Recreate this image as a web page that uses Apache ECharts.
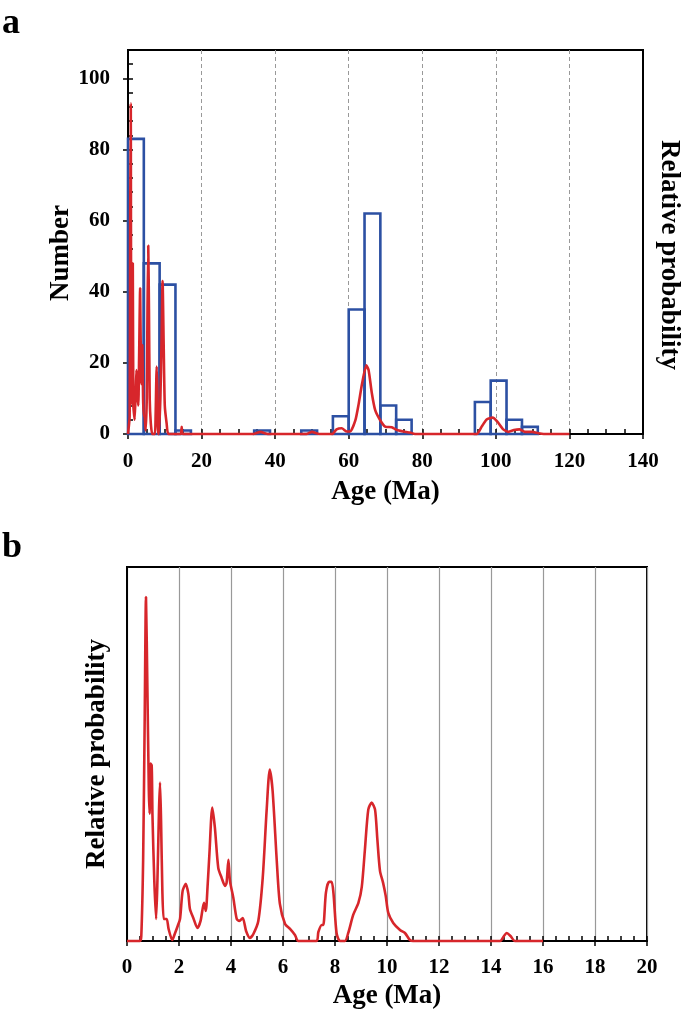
<!DOCTYPE html>
<html><head><meta charset="utf-8">
<script src="https://cdn.jsdelivr.net/npm/echarts@6/dist/echarts.min.js"></script>
<style>html,body{margin:0;padding:0;background:#fff}#c{width:685px;height:1009px}</style>
</head><body><div id="c"></div>
<script>
// ---------- DATA ----------
// Histogram (panel a): bin edges (Ma) and counts
const binLow   = [0, 4.3, 8.6, 12.9, 34.3, 47.1, 55.7, 60.0, 64.3, 68.6, 72.9, 94.3, 98.6, 102.9, 107.1];
const binHigh  = [4.3, 8.6, 12.9, 17.1, 38.6, 51.4, 60.0, 64.3, 68.6, 72.9, 77.1, 98.6, 102.9, 107.1, 111.4];
const binCount = [83, 48, 42, 1, 1, 1, 5, 35, 62, 8, 4, 9, 15, 4, 2];

// Relative probability curve as drawn in panel a (0-120 Ma)
const ageA  = [0, 0.45, 0.6, 0.75, 0.85, 0.95, 1.1, 1.3, 1.45, 1.6, 1.8, 2.1, 2.3, 2.5, 2.8, 3.0, 3.3, 3.55, 3.75, 3.9, 4.1, 4.3, 4.5, 4.8, 5.1, 5.3, 5.5, 5.7, 5.9, 6.2, 6.6, 7.3, 7.5, 7.8, 8.0, 8.2, 8.4, 8.8, 9.1, 9.4, 9.7, 10.0, 10.5, 11.0, 14.3, 14.6, 14.9, 34, 36, 38, 48.5, 50, 52, 55.5, 56.7, 58.1, 59.5, 60.4, 61.8, 62.7, 63.6, 64.8, 65.4, 66.3, 67.2, 68.6, 69.9, 71.7, 73.1, 74.9, 76.7, 78, 94.8, 96.1, 97.5, 99.1, 100.4, 102, 103.4, 104.9, 106.4, 107.9, 109.8, 111.6, 113, 120];
const probA = [0, 5, 60, 93, 40, 40, 8, 48, 8, 6, 4, 12, 18, 12, 8, 20, 41, 15, 14, 25, 10, 5, 5, 1, 10, 35, 53, 35, 10, 3, 0, 0, 5, 19, 12, 0, 0, 10, 25, 43, 25, 8, 3, 0, 0, 2, 0, 0, 0.6, 0, 0, 0.6, 0, 0, 1.3, 1.6, 0.7, 0.7, 3.8, 8.4, 14, 19.3, 18, 11.4, 6.7, 3.8, 2.1, 1.9, 1.1, 0.7, 0.4, 0, 0, 2, 4.1, 4.6, 3.5, 1.3, 0.6, 1.1, 1.3, 0.6, 0.6, 0.2, 0, 0];

// Relative probability curve in panel b (0-16 Ma)
const ageB  = [0, 0.5, 0.55, 0.62, 0.68, 0.73, 0.78, 0.84, 0.87, 0.9, 0.95, 0.98, 1.05, 1.12, 1.17, 1.23, 1.27, 1.31, 1.36, 1.41, 1.47, 1.53, 1.6, 1.74, 1.85, 1.95, 2.04, 2.14, 2.26, 2.36, 2.42, 2.55, 2.71, 2.83, 2.96, 3.03, 3.1, 3.17, 3.28, 3.38, 3.51, 3.64, 3.77, 3.83, 3.9, 3.96, 4.09, 4.22, 4.32, 4.45, 4.58, 4.73, 4.86, 5.05, 5.22, 5.37, 5.49, 5.6, 5.76, 5.88, 6.08, 6.27, 6.46, 6.59, 7.29, 7.36, 7.49, 7.55, 7.65, 7.77, 7.87, 7.94, 8.06, 8.19, 8.38, 8.51, 8.7, 8.9, 9.03, 9.15, 9.28, 9.41, 9.54, 9.63, 9.73, 9.85, 9.95, 10.05, 10.24, 10.5, 10.69, 10.88, 11.0, 14.35, 14.5, 14.6, 14.75, 14.92, 16];
const probB = [0, 0, 5, 80, 220, 343, 260, 150, 127, 177, 175, 125, 60, 22, 60, 130, 158, 120, 50, 22, 22, 22, 12, 1, 8, 15, 22, 50, 57, 47, 32, 23, 13, 20, 38, 30, 55, 87, 133, 113, 73, 63, 55, 58, 81, 60, 43, 22, 20, 23, 10, 3, 7, 20, 63, 130, 171, 150, 80, 37, 17, 12, 6, 0, 0, 9, 16, 16, 48, 59, 59, 48, 8, 0, 0, 8, 26, 38, 54, 91, 131, 138, 131, 101, 70, 58, 45, 28, 18, 11, 8, 1, 0, 0, 5, 8, 5, 0, 0];

// ---------- STYLE ----------
const FONT = '"Liberation Serif","Times New Roman",serif';
const BLUE = '#2C50A3';
const RED = '#D7262B';
const lbl = {fontFamily: FONT, fontWeight: 'bold', fontSize: 21, color: '#000'};
const nameStyle = {fontFamily: FONT, fontWeight: 'bold', fontSize: 27, color: '#000'};
const blackLine = {show: true, lineStyle: {color: '#000', width: 2}};

const chart = echarts.init(document.getElementById('c'), null, {renderer: 'canvas'});

function pairs(xs, ys){ return xs.map((x, i) => [x, ys[i]]); }

const option = {
  animation: false,
  backgroundColor: '#fff',
  graphic: [
    {type: 'text', left: 2, top: 6, style: {text: 'a', font: 'bold 36px ' + FONT, fill: '#000'}},
    {type: 'text', left: 2, top: 530, style: {text: 'b', font: 'bold 36px ' + FONT, fill: '#000'}}
  ],
  grid: [
    {left: 128, top: 50, width: 515, height: 384, show: true, borderColor: '#000', borderWidth: 2,
     backgroundColor: 'transparent', containLabel: false, outerBoundsMode: 'none'},
    {left: 127, top: 567, width: 520, height: 374, show: true, borderColor: '#000', borderWidth: 2,
     backgroundColor: 'transparent', containLabel: false, outerBoundsMode: 'none'}
  ],
  xAxis: [
    {gridIndex: 0, type: 'value', min: 0, max: 140, interval: 20,
     name: 'Age (Ma)', nameLocation: 'middle', nameGap: 45, nameMoveOverlap: false, nameTextStyle: nameStyle,
     axisLine: blackLine, axisTick: {show: true, inside: false, length: 5, lineStyle: {color: '#000', width: 1.5}},
     axisLabel: Object.assign({margin: 17}, lbl),
     splitLine: {show: true, lineStyle: {color: '#999', width: 1, type: [4, 3]}}},
    {gridIndex: 0, type: 'value', min: 0, max: 140, interval: 20, position: 'bottom',
     axisLine: {show: false}, axisLabel: {show: false}, splitLine: {show: false},
     axisTick: {show: true, inside: true, length: 5, lineStyle: {color: '#000', width: 1.5}},
     minorTick: {show: true, splitNumber: 4, length: 5, lineStyle: {color: '#000', width: 1.5}}},
    {gridIndex: 1, type: 'value', min: 0, max: 20, interval: 2,
     name: 'Age (Ma)', nameLocation: 'middle', nameGap: 42, nameMoveOverlap: false, nameTextStyle: nameStyle,
     axisLine: blackLine, axisTick: {show: true, inside: false, length: 5, lineStyle: {color: '#000', width: 1.5}},
     axisLabel: Object.assign({margin: 16}, lbl),
     splitLine: {show: true, lineStyle: {color: '#999', width: 1.2, type: 'solid'}}},
    {gridIndex: 1, type: 'value', min: 0, max: 20, interval: 2, position: 'bottom',
     axisLine: {show: false}, axisLabel: {show: false}, splitLine: {show: false},
     axisTick: {show: true, inside: true, length: 5, lineStyle: {color: '#000', width: 1.5}},
     minorTick: {show: true, splitNumber: 4, length: 5, lineStyle: {color: '#000', width: 1.5}}}
  ],
  yAxis: [
    {gridIndex: 0, type: 'value', min: 0, max: 108, interval: 20, position: 'left',
     name: 'Number', nameLocation: 'middle', nameGap: 53, nameRotate: 90, nameMoveOverlap: false,
     nameTextStyle: Object.assign({padding: [0, 22, 0, 0]}, nameStyle),
     axisLine: blackLine, axisTick: {show: true, inside: false, length: 5, lineStyle: {color: '#000', width: 1.5}},
     axisLabel: Object.assign({margin: 18, showMaxLabel: false}, lbl),
     splitLine: {show: false}},
    {gridIndex: 0, type: 'value', min: 0, max: 108, interval: 20, position: 'left',
     axisLine: {show: false}, axisLabel: {show: false}, splitLine: {show: false},
     axisTick: {show: true, inside: true, length: 5, lineStyle: {color: '#000', width: 1.5}},
     minorTick: {show: true, splitNumber: 5, length: 5, lineStyle: {color: '#000', width: 1.5}}},
    {gridIndex: 0, type: 'value', min: 0, max: 108, position: 'right',
     name: 'Relative probability', nameLocation: 'middle', nameGap: 12, nameRotate: -90, nameMoveOverlap: false,
     nameTextStyle: Object.assign({padding: [0, 0, 0, 26]}, nameStyle),
     axisLine: blackLine, axisTick: {show: false}, axisLabel: {show: false}, splitLine: {show: false}},
    {gridIndex: 1, type: 'value', min: 0, max: 373, position: 'left',
     name: 'Relative probability', nameLocation: 'middle', nameGap: 16, nameRotate: 90, nameMoveOverlap: false,
     nameTextStyle: nameStyle,
     axisLine: blackLine, axisTick: {show: false}, axisLabel: {show: false}, splitLine: {show: false}}
  ],
  series: [
    {type: 'custom', xAxisIndex: 0, yAxisIndex: 0, z: 3,
     encode: {x: [0, 1], y: 2},
     data: binLow.map((l, i) => [l, binHigh[i], binCount[i]]),
     renderItem: function (params, api) {
       const p0 = api.coord([api.value(0), 0]);
       const p1 = api.coord([api.value(1), api.value(2)]);
       return {type: 'rect',
         shape: {x: p0[0], y: p1[1], width: p1[0] - p0[0], height: p0[1] - p1[1]},
         style: {fill: 'none', stroke: BLUE, lineWidth: 2.6}};
     }},
    {type: 'line', xAxisIndex: 0, yAxisIndex: 2, z: 4, data: pairs(ageA, probA),
     showSymbol: false, symbol: 'none', smooth: 0.2, clip: false,
     lineStyle: {color: RED, width: 2.6}},
    {type: 'line', xAxisIndex: 2, yAxisIndex: 3, z: 4, data: pairs(ageB, probB),
     showSymbol: false, symbol: 'none', smooth: 0.25, clip: false,
     lineStyle: {color: RED, width: 2.6}}
  ]
};
chart.setOption(option);
</script>
</body></html>
